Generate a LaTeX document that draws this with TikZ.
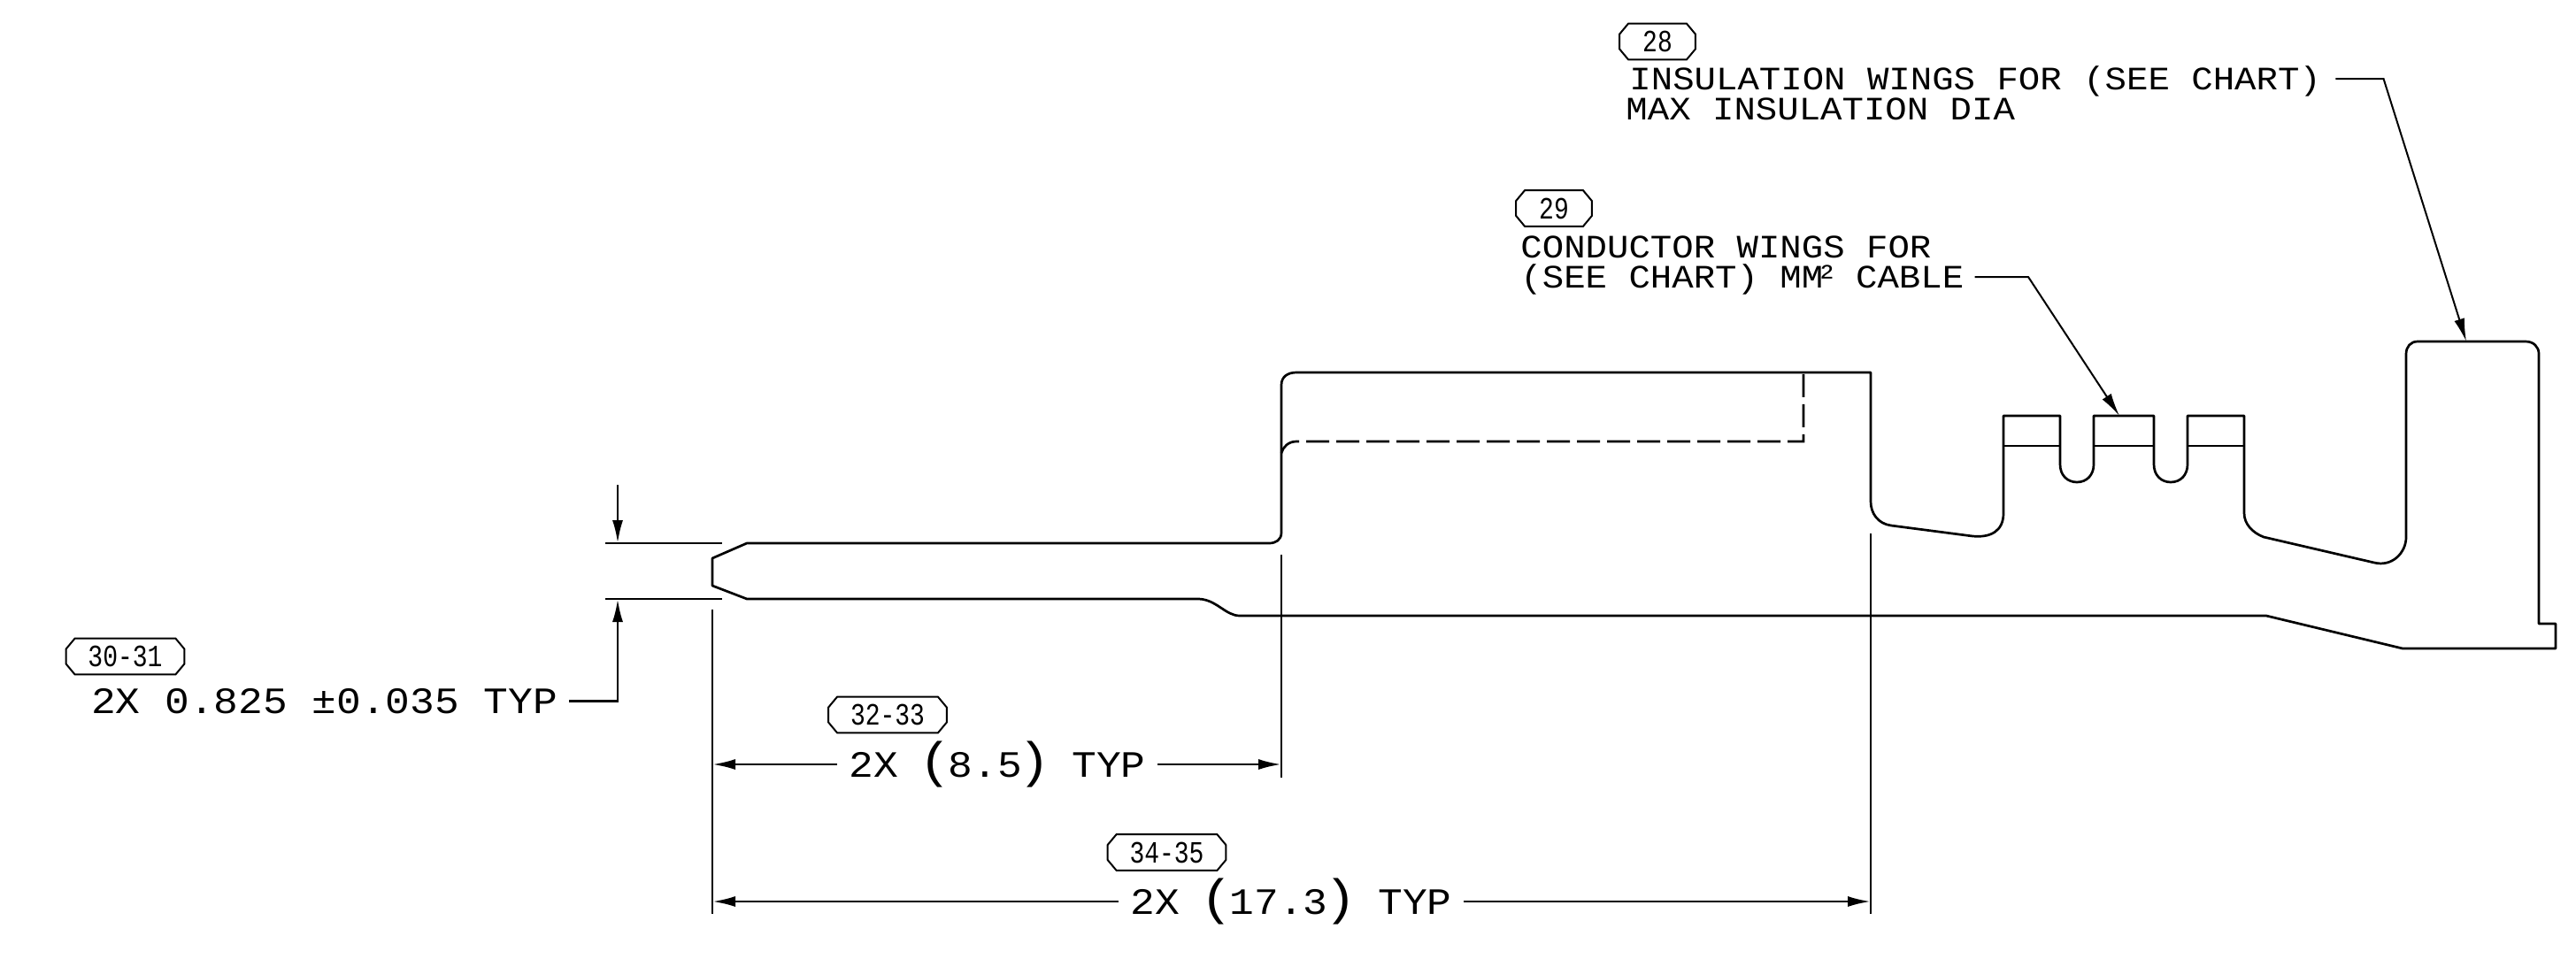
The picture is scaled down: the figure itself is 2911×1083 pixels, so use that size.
\documentclass[tikz,border=0pt]{standalone}
\usepackage{fontspec}
\usetikzlibrary{arrows.meta}
\newfontfamily\cadfont[FakeStretch=1.1]{Liberation Mono}
\newfontfamily\tagfont[FakeStretch=0.8]{Liberation Mono}
\newcommand{\bigparen}[1]{\kern-2pt{\fontsize{28pt}{28pt}\selectfont #1}\kern-2pt\relax}

\begin{document}
\begin{tikzpicture}[
  x=0.5pt, y=-0.5pt,
  part_line/.style={line width=1.35pt, line join=round},
  thin_line/.style={line width=1pt},
  dash_line/.style={line width=1.35pt, dash pattern=on 13pt off 4pt},
  dim_arrow/.style={line width=1.35pt, -{Latex[length=13pt,width=6pt]}},
  lead_arrow/.style={line width=1pt, -{Latex[length=13pt,width=6pt]}},
  tag_box/.style={rectangle, minimum width=#1, minimum height=20pt, inner sep=0pt, font=\tagfont\fontsize{17.5pt}{18pt}\selectfont},
  dim_text/.style={inner xsep=6.5pt, inner ysep=0pt, text height=14pt, text depth=0pt, font=\cadfont\fontsize{21pt}{22pt}\selectfont},
  label_text/.style={inner xsep=#1, inner ysep=0pt, text height=12.5pt, text depth=0pt, font=\cadfont\fontsize{18.5pt}{20pt}\selectfont},
]
\useasboundingbox (0,0) rectangle (2911,1083);

\draw[part_line] (844,614) -- (1434,614) .. controls (1442,614) and (1448,610) .. (1448,602)
  -- (1448,435) .. controls (1448,426) and (1455,421) .. (1465,421)
  -- (2114,421) -- (2114,567) .. controls (2114,580) and (2122,592) .. (2137,594)
  -- (2229,606) .. controls (2250,608) and (2264,600) .. (2264,580)
  -- (2264,470) -- (2328,470) -- (2328,525) .. controls (2328,537) and (2336,545) .. (2347,545)
  .. controls (2358,545) and (2366,537) .. (2366,525) -- (2366,470)
  -- (2434,470) -- (2434,525) .. controls (2434,537) and (2442,545) .. (2453,545)
  .. controls (2464,545) and (2472,537) .. (2472,525) -- (2472,470)
  -- (2536,470) -- (2536,580) .. controls (2536,592) and (2545,602) .. (2558,607)
  -- (2683,636) .. controls (2703,641) and (2719,625) .. (2719,607)
  -- (2719,400) .. controls (2719,392) and (2724,386) .. (2732,386)
  -- (2854,386) .. controls (2863,386) and (2869,392) .. (2869,400)
  -- (2869,705) -- (2888,705) -- (2888,733) -- (2715,733) -- (2561,696)
  -- (1401,696) .. controls (1385,696) and (1375,678) .. (1355,677)
  -- (844,677) -- (805,662) -- (805,631) -- cycle;
\draw[part_line] (2264,504) -- (2328,504);
\draw[part_line] (2366,504) -- (2434,504);
\draw[part_line] (2472,504) -- (2536,504);
\draw[dash_line] (1448,512) .. controls (1450,505) and (1456,499) .. (1465,499) -- (2038,499) -- (2038,421);

\coordinate (ext_a_top) at (684,614);
\coordinate (ext_a_end) at (816,614);
\coordinate (ext_b_top) at (684,677);
\coordinate (ext_b_end) at (816,677);
\coordinate (ext_c_top) at (805,689);
\coordinate (ext_c_end) at (805,1033);
\coordinate (ext_d_top) at (1448,627);
\coordinate (ext_d_end) at (1448,879);
\coordinate (ext_e_top) at (2114,603);
\coordinate (ext_e_end) at (2114,1033);
\draw[thin_line] (ext_a_top) -- (ext_a_end);
\draw[thin_line] (ext_b_top) -- (ext_b_end);
\draw[thin_line] (ext_c_top) -- (ext_c_end);
\draw[thin_line] (ext_d_top) -- (ext_d_end);
\draw[thin_line] (ext_e_top) -- (ext_e_end);

\draw (141.5,742) node (tag_30) [tag_box=66.5pt] {30-31};
\draw (1003,808) node (tag_32) [tag_box=66.5pt] {32-33};
\draw (1318.5,963.5) node (tag_34) [tag_box=66.5pt] {34-35};
\draw (1873,47) node (tag_28) [tag_box=42.5pt] {28};
\draw (1756,235.5) node (tag_29) [tag_box=42.5pt] {29};
\foreach \t in {tag_30,tag_32,tag_34,tag_28,tag_29}
  \draw[thin_line] ([xshift=5pt]\t.north west) -- ([xshift=-5pt]\t.north east)
    -- ([yshift=-6pt]\t.north east) -- ([yshift=6pt]\t.south east)
    -- ([xshift=-5pt]\t.south east) -- ([xshift=5pt]\t.south west)
    -- ([yshift=6pt]\t.south west) -- ([yshift=-6pt]\t.north west) -- cycle;

\draw (366.5,792.5) node (dim_thick) [dim_text] {2X 0.825 ±0.035 TYP};
\draw (1127,864) node (dim_short) [dim_text] {2X \bigparen{(}8.5\bigparen{)} TYP};
\draw (1459,1019) node (dim_long) [dim_text] {2X \bigparen{(}17.3\bigparen{)} TYP};

\draw (1825,88.5) node (ins_one) [label_text=8pt, right] {INSULATION WINGS FOR (SEE CHART)};
\draw (1817,123) node (ins_two) [label_text=10pt, right] {MAX INSULATION DIA};
\draw (1698,279) node (con_one) [label_text=10pt, right] {CONDUCTOR WINGS FOR};
\draw (1706,313) node (con_two) [label_text=6pt, right] {(SEE CHART) MM\kern-4pt²\kern-2pt{} CABLE};

\coordinate (top_arrow_start) at (698,548);
\coordinate (top_arrow_tip) at (698,614);
\coordinate (low_arrow_tip) at (698,677);
\coordinate (left_short_tip) at (805,864);
\coordinate (right_short_tip) at (1448,864);
\coordinate (left_long_tip) at (805,1019);
\coordinate (right_long_tip) at (2114,1019);
\coordinate (ins_bend) at (2693.5,89);
\coordinate (ins_tip) at (2787,386);
\coordinate (con_bend) at (2292,313);
\coordinate (con_tip) at (2395,470);

\draw[dim_arrow] (top_arrow_start) -- (top_arrow_tip);
\draw[dim_arrow] (dim_thick.east) -| (low_arrow_tip);
\draw[dim_arrow] (dim_short.west) -- (left_short_tip);
\draw[dim_arrow] (dim_short.east) -- (right_short_tip);
\draw[dim_arrow] (dim_long.west) -- (left_long_tip);
\draw[dim_arrow] (dim_long.east) -- (right_long_tip);
\draw[lead_arrow] (ins_one.east |- ins_bend) -- (ins_bend) -- (ins_tip);
\draw[lead_arrow] (con_two.east |- con_bend) -- (con_bend) -- (con_tip);
\end{tikzpicture}
\end{document}
